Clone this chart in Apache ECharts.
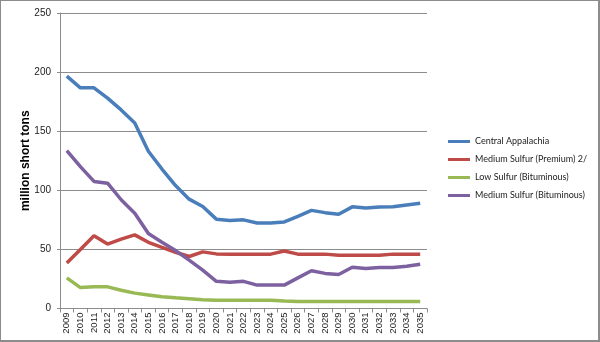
<!DOCTYPE html>
<html>
<head>
<meta charset="utf-8">
<script src="https://cdn.jsdelivr.net/npm/echarts@6/dist/echarts.min.js"></script>
<style>
html,body{margin:0;padding:0;background:#fff;}
#frame{position:absolute;left:0;top:0;width:597px;height:339px;border:1px solid #8c8c8c;border-right-width:2px;border-bottom-width:2px;}
#chart{position:absolute;left:0;top:0;width:600px;height:342px;}
</style>
</head>
<body>
<div id="frame"></div>
<div id="chart"></div>
<script>
const years = ['2009','2010','2011','2012','2013','2014','2015','2016','2017','2018','2019','2020','2021','2022','2023','2024','2025','2026','2027','2028','2029','2030','2031','2032','2033','2034','2035'];
const centralAppalachia = [196.6,186.7,186.7,178,168,157,133,118,104,92.5,86.3,75.6,74.5,75,72.4,72.4,73.2,78,83,81.1,79.7,86,85,85.9,86,87.6,89];
const mediumSulfurPremium = [38.5,50,61.5,54.5,58.7,62.3,56,51.7,47.6,44,47.9,46.2,46,46,46,46,48.6,46,46,46,45,45,45,45,46,46,46];
const lowSulfurBituminous = [25.9,17.7,18.3,18.3,15.5,13,11.5,10,9,8.3,7.5,7,7,7,7,7,6.3,6,6,6,6,6,6,6,6,6,6];
const mediumSulfurBituminous = [133.6,120,107.5,106,92,80.6,63.4,56,49,40.9,32.4,23,22.3,23,19.8,19.8,19.8,25.9,31.9,29.7,28.8,34.9,33.8,34.7,34.7,35.8,37.5];
const seriesNames = ['Central Appalachia','Medium Sulfur (Premium) 2/','Low Sulfur (Bituminous)','Medium Sulfur (Bituminous)'];
const colors = ['#4a7ebb','#be4b48','#98b954','#7d60a0'];
const yTicks = {min:0, max:250, interval:50};
const yTitle = 'million short tons';

const chart = echarts.init(document.getElementById('chart'), null, {renderer:'canvas'});
const values = [centralAppalachia, mediumSulfurPremium, lowSulfurBituminous, mediumSulfurBituminous];
chart.setOption({
  animation:false,
  textStyle:{fontFamily:'Lato'},
  grid:{left:60, right:173, top:13, bottom:33.5},
  legend:{
    orient:'vertical', left:443, top:132, itemGap:9, itemWidth:22, itemHeight:11,
    icon:'path://M0,4 L22,4 L22,7 L0,7 Z',
    textStyle:{fontFamily:'Lato', fontSize:9, color:'#222', padding:[0,0,0,0]},
    data:seriesNames
  },
  xAxis:{
    type:'category', data:years, boundaryGap:true,
    axisLine:{lineStyle:{color:'#8c8c8c', width:1}},
    axisTick:{show:true, interval:0, length:4, lineStyle:{color:'#8c8c8c'}},
    axisLabel:{rotate:90, interval:0, fontSize:9.5, color:'#222', margin:4, fontFamily:'Liberation Sans'}
  },
  yAxis:{
    type:'value', min:yTicks.min, max:yTicks.max, interval:yTicks.interval,
    name:yTitle, nameLocation:'middle', nameRotate:90, nameGap:28, nameMoveOverlap:false,
    nameTextStyle:{fontFamily:'Liberation Sans', fontWeight:'bold', fontSize:12, color:'#000'},
    axisLine:{show:true, lineStyle:{color:'#8c8c8c', width:1}},
    axisTick:{show:true, length:3, lineStyle:{color:'#8c8c8c'}},
    axisLabel:{fontSize:10, color:'#222', margin:9, fontFamily:'Liberation Sans'},
    splitLine:{show:true, lineStyle:{color:'#8c8c8c', width:1}}
  },
  series: seriesNames.map((n,i)=>({
    name:n, type:'line', data:values[i], symbol:'none', smooth:false,
    lineStyle:{color:colors[i], width:3.5}, itemStyle:{color:colors[i]}
  }))
});
</script>
</body>
</html>
